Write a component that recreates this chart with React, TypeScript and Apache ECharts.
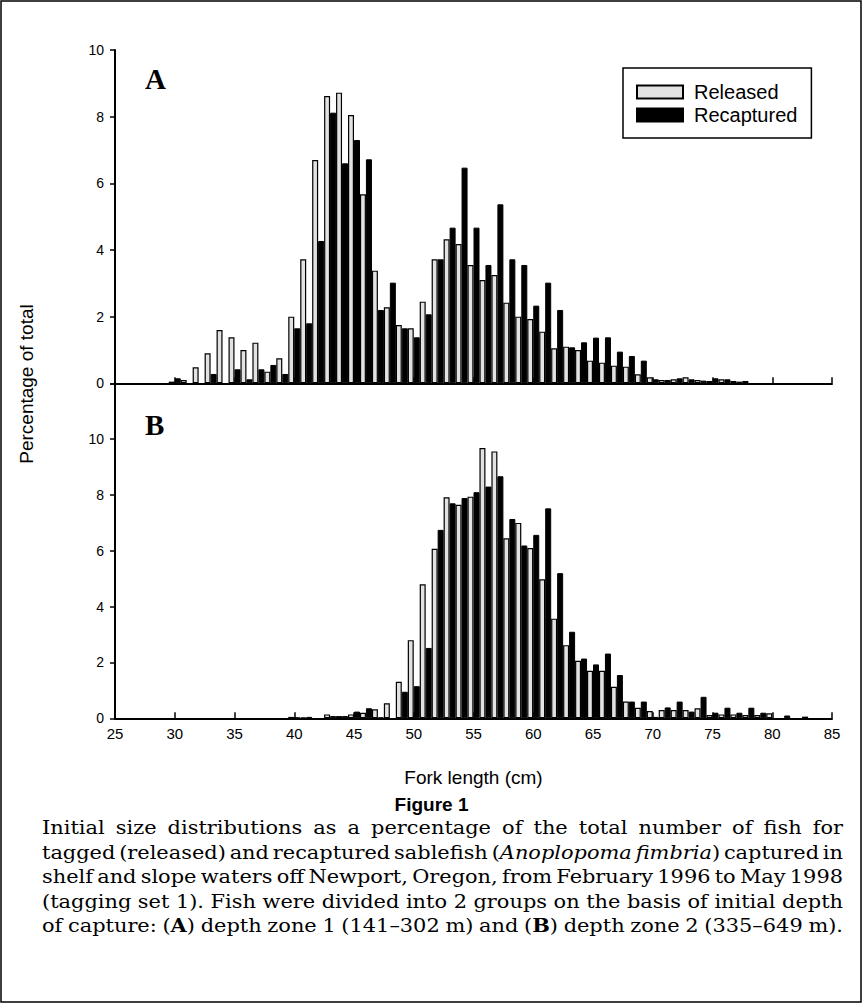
import React, { useEffect, useRef } from "react";
import * as echarts from "echarts";

// Fork length bins (cm)
const BINS_A = [30, 31, 32, 33, 34, 35, 36, 37, 38, 39, 40, 41, 42, 43, 44, 45, 46, 47, 48, 49, 50, 51, 52, 53, 54, 55, 56, 57, 58, 59, 60, 61, 62, 63, 64, 65, 66, 67, 68, 69, 70, 71, 72, 73, 74, 75, 76, 77, 78];
const RELEASED_A = [0.05, 0.1, 0.48, 0.9, 1.6, 1.38, 1.0, 1.22, 0.35, 0.75, 2.0, 3.72, 6.7, 8.62, 8.72, 8.05, 5.67, 3.38, 2.28, 1.75, 1.65, 2.45, 3.72, 4.32, 4.18, 3.55, 3.1, 3.25, 2.42, 2.0, 1.93, 1.55, 1.05, 1.1, 1.0, 0.68, 0.62, 0.53, 0.5, 0.27, 0.18, 0.1, 0.12, 0.18, 0.1, 0.07, 0.12, 0.07, 0.07];
const RECAPTURED_A = [0.15, 0, 0, 0.28, 0, 0.42, 0.12, 0.42, 0.55, 0.28, 1.65, 1.8, 4.27, 8.12, 6.6, 7.3, 6.72, 2.2, 3.02, 1.65, 1.38, 2.07, 3.72, 4.67, 6.47, 4.67, 3.55, 5.37, 3.72, 3.55, 2.33, 3.02, 2.2, 1.08, 1.23, 1.37, 1.38, 0.95, 0.82, 0.68, 0.12, 0.1, 0.15, 0.12, 0.08, 0.15, 0.12, 0.05, 0];

const BINS_B = [40, 41, 42, 43, 44, 45, 46, 47, 48, 49, 50, 51, 52, 53, 54, 55, 56, 57, 58, 59, 60, 61, 62, 63, 64, 65, 66, 67, 68, 69, 70, 71, 72, 73, 74, 75, 76, 77, 78, 79, 80, 81, 82, 83];
const RELEASED_B = [0.05, 0.03, 0, 0.14, 0.08, 0.14, 0.2, 0.32, 0.54, 1.31, 2.8, 4.8, 6.07, 7.92, 7.65, 7.94, 9.68, 9.56, 6.45, 7.0, 6.1, 4.98, 3.57, 2.62, 2.06, 1.7, 1.7, 1.13, 0.6, 0.38, 0.26, 0.3, 0.3, 0.3, 0.36, 0.12, 0.14, 0.14, 0.12, 0.12, 0.18, 0, 0, 0.06];
const RECAPTURED_B = [0.03, 0.05, 0, 0.08, 0.08, 0.24, 0.36, 0.03, 0, 0.95, 1.15, 2.52, 6.75, 7.7, 7.89, 8.1, 8.3, 8.67, 7.14, 6.19, 6.57, 7.52, 5.2, 3.1, 2.14, 1.93, 2.32, 1.55, 0.6, 0.6, 0.05, 0.39, 0.6, 0.24, 0.77, 0.2, 0.38, 0.2, 0.38, 0.2, 0, 0.1, 0, 0];

const X_MIN = 25;
const X_MAX = 85;
const X_STEP = 5;
const Y_MAX_A = 10;
const Y_MAX_B = 12;
const Y_STEP = 2;

const SERIES_NAMES = ["Released", "Recaptured"];
const PANEL_LABELS = ["A", "B"];
const X_TITLE = "Fork length (cm)";
const Y_TITLE = "Percentage of total";
const FIG_TITLE = "Figure 1";
// caption lines: pieces of [text, style] (n normal, i italic, b bold)
const CAPTION: [string, string][][] = [
  [["Initial size distributions as a percentage of the total number of fish for", "n"]],
  [["tagged (released) and recaptured sablefish (", "n"], ["Anoplopoma fimbria", "i"], [") captured in", "n"]],
  [["shelf and slope waters off Newport, Oregon, from February 1996 to May 1998", "n"]],
  [["(tagging set 1). Fish were divided into 2 groups on the basis of initial depth", "n"]],
  [["of capture: (", "n"], ["A", "b"], [") depth zone 1 (141–302 m) and (", "n"], ["B", "b"], [") depth zone 2 (335–649 m).", "n"]],
];

const SANS = "Liberation Sans, Arial, sans-serif";
const SERIF = "Liberation Serif, Times New Roman, serif";
const CAP_FAMILY = "DejaVu Serif";
const CAP_SIZE = 19;
const CAP_STRETCH = 1.1;

function pairs(bins: number[], vals: number[]) {
  return bins.map((b, i) => [b, vals[i]]).filter((p) => p[1] > 0);
}

function capFont(s: string) {
  return `${s === "i" ? "italic " : ""}${s === "b" ? "bold " : ""}${CAP_SIZE}px "${CAP_FAMILY}"`;
}

function justifyLine(pieces: [string, string][], x0: number, width: number, y: number) {
  const ctx = document.createElement("canvas").getContext("2d")!;
  const words: { t: string; s: string }[][] = [];
  let cur: { t: string; s: string }[] = [];
  pieces.forEach(([text, s]) => {
    const parts = text.split(" ");
    parts.forEach((part, j) => {
      if (j > 0) {
        if (cur.length) words.push(cur);
        cur = [];
      }
      if (part !== "") cur.push({ t: part, s });
    });
  });
  if (cur.length) words.push(cur);
  const widths = words.map((w) =>
    w.map((p) => {
      ctx.font = capFont(p.s);
      return ctx.measureText(p.t).width * CAP_STRETCH;
    })
  );
  const total = widths.reduce((a, w) => a + w.reduce((b, c) => b + c, 0), 0);
  const gap = words.length > 1 ? (width - total) / (words.length - 1) : 0;
  const els: any[] = [];
  let x = x0;
  words.forEach((w, wi) => {
    w.forEach((p, pi) => {
      els.push({
        type: "text",
        x,
        y,
        scaleX: CAP_STRETCH,
        silent: true,
        style: {
          text: p.t,
          fontSize: CAP_SIZE,
          fontFamily: CAP_FAMILY,
          fontStyle: p.s === "i" ? "italic" : "normal",
          fontWeight: p.s === "b" ? "bold" : "normal",
          fill: "#000",
          verticalAlign: "middle",
        },
      });
      x += widths[wi][pi];
    });
    x += gap;
  });
  return els;
}

export default function App() {
  const ref = useRef<HTMLDivElement>(null);
  useEffect(() => {
    document.body.style.margin = "0";
    const chart = echarts.init(ref.current!, null, { renderer: "svg" });
    const axisLine = { show: true, onZero: false, lineStyle: { color: "#000", width: 2 } };
    const xAxisBase = {
      type: "value",
      min: X_MIN,
      max: X_MAX,
      interval: X_STEP,
      axisLine,
      axisTick: { show: true, inside: true, length: 6, lineStyle: { color: "#000", width: 1.5 } },
      splitLine: { show: false },
    };
    const yAxisBase = {
      type: "value",
      min: 0,
      interval: Y_STEP,
      axisLine,
      axisTick: { show: true, inside: false, length: 5, lineStyle: { color: "#000", width: 1.5 } },
      splitLine: { show: false },
      axisLabel: { color: "#000", fontSize: 14, fontFamily: SANS, margin: 11 },
    };
    const relStyle = { color: "#e2e2e2", borderColor: "#000", borderWidth: 1.2 };
    const recStyle = { color: "#000", borderColor: "#000", borderWidth: 1 };
    const barBase = { type: "bar", barWidth: 6, barGap: "0%", emphasis: { disabled: true } };

    const rowY = [827, 852, 876.5, 901, 925.5];
    const captionEls = CAPTION.flatMap((line, i) => justifyLine(line, 42, 801, rowY[i]));

    const option: any = {
      animation: false,
      grid: [
        { left: 115, top: 50, width: 717, height: 333.3 },
        { left: 115, top: 383.3, width: 717, height: 335 },
      ],
      xAxis: [
        { ...xAxisBase, gridIndex: 0, axisLabel: { show: false } },
        {
          ...xAxisBase,
          gridIndex: 1,
          axisLabel: { show: true, color: "#000", fontSize: 15, fontFamily: SANS, margin: 8 },
        },
      ],
      yAxis: [
        { ...yAxisBase, gridIndex: 0, max: Y_MAX_A },
        {
          ...yAxisBase,
          gridIndex: 1,
          max: Y_MAX_B,
          axisLabel: {
            ...yAxisBase.axisLabel,
            formatter: (v: number) => (v >= Y_MAX_B ? "" : String(v)),
          },
        },
      ],
      legend: {
        data: SERIES_NAMES.map((n) => ({ name: n, icon: "rect" })),
        orient: "vertical",
        left: 623,
        top: 68,
        padding: [14, 14, 13, 13],
        itemGap: 3,
        itemWidth: 46,
        itemHeight: 13,
        borderColor: "#000",
        borderWidth: 1.5,
        selectedMode: false,
        textStyle: { color: "#000", fontSize: 20, fontFamily: SANS, lineHeight: 20, padding: [0, 0, 0, 6] },
      },
      series: [
        { ...barBase, name: SERIES_NAMES[0], xAxisIndex: 0, yAxisIndex: 0, itemStyle: relStyle, data: pairs(BINS_A, RELEASED_A) },
        { ...barBase, name: SERIES_NAMES[1], xAxisIndex: 0, yAxisIndex: 0, itemStyle: recStyle, data: pairs(BINS_A, RECAPTURED_A) },
        { ...barBase, name: SERIES_NAMES[0], xAxisIndex: 1, yAxisIndex: 1, itemStyle: relStyle, data: pairs(BINS_B, RELEASED_B) },
        { ...barBase, name: SERIES_NAMES[1], xAxisIndex: 1, yAxisIndex: 1, itemStyle: recStyle, data: pairs(BINS_B, RECAPTURED_B) },
      ],
      graphic: [
        {
          type: "rect",
          shape: { x: 1, y: 1, width: 860, height: 1001 },
          style: { fill: "none", stroke: "#000", lineWidth: 1.5 },
          silent: true,
        },
        {
          type: "text",
          x: 145,
          y: 64,
          style: { text: PANEL_LABELS[0], fontSize: 29, fontWeight: "bold", fontFamily: SERIF, fill: "#000" },
        },
        {
          type: "text",
          x: 145,
          y: 410,
          style: { text: PANEL_LABELS[1], fontSize: 29, fontWeight: "bold", fontFamily: SERIF, fill: "#000" },
        },
        {
          type: "text",
          x: 26,
          y: 384,
          rotation: Math.PI / 2,
          style: { text: Y_TITLE, fontSize: 19, fontFamily: SANS, fill: "#000", align: "center", verticalAlign: "middle" },
        },
        {
          type: "text",
          x: 473.5,
          y: 777,
          style: { text: X_TITLE, fontSize: 19, fontFamily: SANS, fill: "#000", align: "center", verticalAlign: "middle" },
        },
        {
          type: "text",
          x: 431.5,
          y: 804,
          style: { text: FIG_TITLE, fontSize: 19, fontWeight: "bold", fontFamily: SANS, fill: "#000", align: "center", verticalAlign: "middle" },
        },
        ...captionEls,
      ],
    };
    chart.setOption(option);
    return () => chart.dispose();
  }, []);
  return <div ref={ref} style={{ width: 863, height: 1004 }} />;
}
